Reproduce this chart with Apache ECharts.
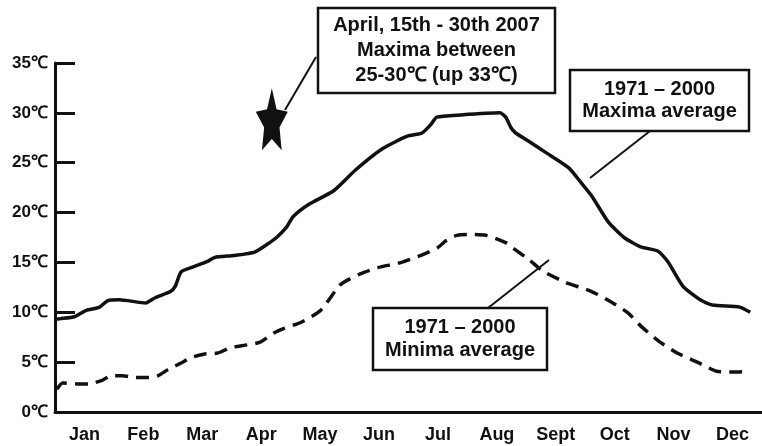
<!DOCTYPE html>
<html>
<head>
<meta charset="utf-8">
<script src="https://cdn.jsdelivr.net/npm/echarts@6/dist/echarts.min.js"></script>
<style>
  html, body { margin: 0; padding: 0; background: #fff; }
  #chart { width: 762px; height: 446px; }
</style>
</head>
<body>
<div id="chart"></div>
<script>
// month labels and temperature ticks
const months = ['Jan', 'Feb', 'Mar', 'Apr', 'May', 'Jun', 'Jul', 'Aug', 'Sept', 'Oct', 'Nov', 'Dec'];
const tempTicks = [0, 5, 10, 15, 20, 25, 30, 35];

// [position in months from 1 Jan, °C]
const maximaAvg = [
  [0, 9.3], [0.08, 9.36], [0.33, 9.55], [0.53, 10.2], [0.75, 10.5], [0.89, 11.15],
  [1.09, 11.25], [1.54, 10.94], [1.7, 11.46], [1.96, 12.08], [2.04, 12.6], [2.14, 14.06],
  [2.31, 14.48], [2.59, 15.1], [2.71, 15.5], [3.04, 15.7], [3.39, 16.04], [3.59, 16.77],
  [3.76, 17.5], [3.93, 18.54], [4.04, 19.58], [4.31, 20.83], [4.73, 22.19], [5.1, 24.27],
  [5.55, 26.38], [5.98, 27.66], [6.23, 27.98], [6.38, 28.83], [6.48, 29.57], [6.89, 29.79],
  [7.55, 30.0], [7.65, 29.57], [7.74, 28.51], [7.82, 27.98], [8.02, 27.23], [8.32, 26.06],
  [8.72, 24.48], [8.94, 22.92], [9.11, 21.67], [9.39, 19.06], [9.66, 17.5], [9.94, 16.56],
  [10.23, 16.15], [10.4, 15.1], [10.66, 12.6], [10.95, 11.25], [11.16, 10.73], [11.62, 10.52],
  [11.8, 10.0]
];
const minimaAvg = [
  [0.03, 2.27], [0.13, 2.91], [0.37, 2.82], [0.58, 2.82], [0.8, 3.18], [0.95, 3.64],
  [1.14, 3.64], [1.37, 3.45], [1.59, 3.45], [1.75, 3.64], [1.92, 4.27], [2.14, 4.91],
  [2.31, 5.45], [2.54, 5.82], [2.76, 5.91], [2.98, 6.45], [3.26, 6.73], [3.48, 7.0],
  [3.71, 7.91], [3.88, 8.36], [4.18, 9.0], [4.51, 10.2], [4.85, 12.8], [5.18, 13.85],
  [5.48, 14.48], [5.88, 15.0], [6.22, 15.73], [6.49, 16.46], [6.64, 17.19], [6.82, 17.71],
  [6.99, 17.81], [7.32, 17.71], [7.65, 16.98], [7.77, 16.46], [8.06, 15.21], [8.27, 14.17],
  [8.66, 13.02], [9.11, 12.08], [9.44, 11.04], [9.73, 9.91], [9.94, 8.64], [10.23, 7.18],
  [10.56, 5.91], [10.9, 5.0], [11.23, 4.09], [11.57, 4.0], [11.78, 4.09]
];
// late April 2007 heat spell
const april2007 = [[3.68, 29.36]];

const ink = '#111';
const font = '"Liberation Sans", Arial, sans-serif';
const starPath = 'path://M50,0 L64.1,30.6 L97.6,34.5 L72.8,57.4 L79.4,90.5 L50,74 L20.6,90.5 L27.2,57.4 L2.4,34.5 L35.9,30.6 Z';

// annotation box: frame plus centered lines of text
function noteBox(x, y, w, h, lines, lineGap) {
  const children = [{
    type: 'rect',
    shape: { x: x, y: y, width: w, height: h },
    style: { fill: '#fff', stroke: ink, lineWidth: 2.5 }
  }];
  const firstY = y + h / 2 - (lines.length - 1) * lineGap / 2;
  lines.forEach((t, i) => {
    children.push({
      type: 'text',
      style: {
        text: t, x: x + w / 2, y: firstY + i * lineGap,
        align: 'center', verticalAlign: 'middle',
        font: 'bold 20px ' + font, fill: ink
      }
    });
  });
  return { type: 'group', children: children };
}
function leader(x1, y1, x2, y2) {
  return { type: 'line', shape: { x1, y1, x2, y2 }, style: { stroke: ink, lineWidth: 2 } };
}

const chart = echarts.init(document.getElementById('chart'), null, { renderer: 'canvas' });
chart.setOption({
  backgroundColor: '#fff',
  animation: false,
  grid: { left: 55, top: 63, width: 718, height: 349 },
  xAxis: [{
    type: 'category',
    data: months,
    boundaryGap: true,
    axisLine: { lineStyle: { color: ink, width: 3 } },
    axisTick: { inside: true, length: 20, interval: 0, lineStyle: { color: ink, width: 3 } },
    axisLabel: { color: ink, fontWeight: 'bold', fontSize: 18, fontFamily: font, margin: 14, interval: 0 },
    splitLine: { show: false }
  }, {
    type: 'value', min: 0, max: 12, show: false
  }],
  yAxis: {
    type: 'value',
    min: tempTicks[0],
    max: tempTicks[tempTicks.length - 1],
    interval: 5,
    axisLine: { show: true, lineStyle: { color: ink, width: 3 } },
    axisTick: { show: true, inside: true, length: 20, lineStyle: { color: ink, width: 3 } },
    axisLabel: { color: ink, fontWeight: 'bold', fontSize: 17, fontFamily: font, margin: 7, formatter: '{value}℃' },
    splitLine: { show: false }
  },
  series: [{
    name: '1971 – 2000 Maxima average',
    type: 'line',
    xAxisIndex: 1,
    data: maximaAvg,
    showSymbol: false,
    smooth: 0.2,
    lineStyle: { color: ink, width: 3.5 }
  }, {
    name: '1971 – 2000 Minima average',
    type: 'line',
    xAxisIndex: 1,
    data: minimaAvg,
    showSymbol: false,
    smooth: 0.2,
    lineStyle: { color: ink, width: 3.5, type: [13, 8] }
  }, {
    name: 'April 2007',
    type: 'scatter',
    xAxisIndex: 1,
    data: april2007,
    symbol: starPath,
    symbolSize: [32, 62],
    itemStyle: { color: ink, opacity: 1 }
  }],
  graphic: [
    leader(316, 57, 285, 110),
    noteBox(318, 8, 237, 85, ['April, 15th - 30th 2007', 'Maxima between', '25-30℃ (up 33℃)'], 25),
    leader(650, 131, 590, 178),
    noteBox(570, 70, 179, 61, ['1971 – 2000', 'Maxima average'], 22),
    leader(488, 308, 549, 260),
    noteBox(373, 308, 174, 62, ['1971 – 2000', 'Minima average'], 23)
  ]
});
</script>
</body>
</html>
